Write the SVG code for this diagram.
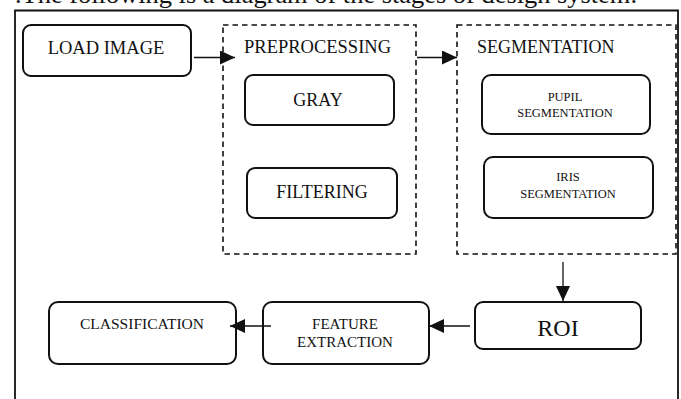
<svg xmlns="http://www.w3.org/2000/svg" width="681" height="399" viewBox="0 0 681 399">
  <style>
    text { font-family: "Liberation Serif", "Times New Roman", serif; fill: #111; text-anchor: middle; }
    .box { fill: #fff; stroke: #111; stroke-width: 2; }
    .group { fill: none; stroke: #111; stroke-width: 1.6; stroke-dasharray: 5.5 4; }
    .frame { fill: none; stroke: #111; stroke-width: 1.8; }
    .link { fill: none; stroke: #111; stroke-width: 1.3; marker-end: url(#arrow); }
  </style>
  <defs>
    <marker id="arrow" viewBox="0 0 15 14" refX="15" refY="7" markerWidth="15" markerHeight="14" markerUnits="userSpaceOnUse" orient="auto">
      <path d="M0,0 L15,7 L0,14 z" fill="#111"/>
    </marker>
  </defs>

  <rect width="681" height="399" fill="#fff"/>

  <!-- caption above the figure -->
  <text x="15" y="3" style="text-anchor: start; font-size: 25px;" textLength="622" lengthAdjust="spacingAndGlyphs">.The following is a diagram of the stages of design system.</text>

  <!-- outer frame (open at the bottom edge of the page) -->
  <path class="frame" d="M15,420 L15,10.5 L678,10.5 L678,420"/>

  <!-- stage groups -->
  <g id="preprocessing">
    <rect class="group" x="223" y="25" width="193" height="229"/>
    <text x="244" y="53" style="text-anchor: start; font-size: 18.5px;">PREPROCESSING</text>
  </g>
  <g id="segmentation">
    <rect class="group" x="457" y="25" width="219" height="229"/>
    <text x="477" y="53" style="text-anchor: start; font-size: 18px;">SEGMENTATION</text>
  </g>

  <!-- nodes -->
  <g id="load-image">
    <rect class="box" x="23" y="25" width="168" height="51" rx="8"/>
    <text x="106" y="54" style="font-size: 18.5px;">LOAD IMAGE</text>
  </g>
  <g id="gray">
    <rect class="box" x="245" y="75" width="149" height="50" rx="8"/>
    <text x="318" y="105.5" style="font-size: 18px;">GRAY</text>
  </g>
  <g id="filtering">
    <rect class="box" x="247" y="168" width="150" height="50" rx="8"/>
    <text x="322" y="198" style="font-size: 18px;">FILTERING</text>
  </g>
  <g id="pupil-segmentation">
    <rect class="box" x="482" y="75" width="168" height="59" rx="9"/>
    <text x="565" y="100.5" style="font-size: 12.5px;">PUPIL</text>
    <text x="565" y="117" style="font-size: 12.5px;">SEGMENTATION</text>
  </g>
  <g id="iris-segmentation">
    <rect class="box" x="484" y="157" width="169" height="61" rx="9"/>
    <text x="568" y="180.5" style="font-size: 12.5px;">IRIS</text>
    <text x="568" y="197.5" style="font-size: 12.5px;">SEGMENTATION</text>
  </g>
  <g id="roi">
    <rect class="box" x="475" y="302" width="166" height="47" rx="8"/>
    <text x="558" y="336" style="font-size: 24px;">ROI</text>
  </g>
  <g id="feature-extraction">
    <rect class="box" x="263" y="302" width="166" height="62" rx="9"/>
    <text x="345" y="329" style="font-size: 15px;">FEATURE</text>
    <text x="345" y="347" style="font-size: 15px;">EXTRACTION</text>
  </g>
  <g id="classification">
    <rect class="box" x="49" y="302" width="187" height="62" rx="9"/>
    <text x="142" y="329" style="font-size: 15.5px;">CLASSIFICATION</text>
  </g>

  <!-- connectors -->
  <g id="connectors">
    <path class="link" d="M194,57.5 L235,57.5"/>
    <path class="link" d="M417,57.5 L457,57.5"/>
    <path class="link" d="M563,262 L563,301"/>
    <path class="link" d="M470,326 L429,326"/>
    <path class="link" d="M271,326 L230,326"/>
  </g>
</svg>
